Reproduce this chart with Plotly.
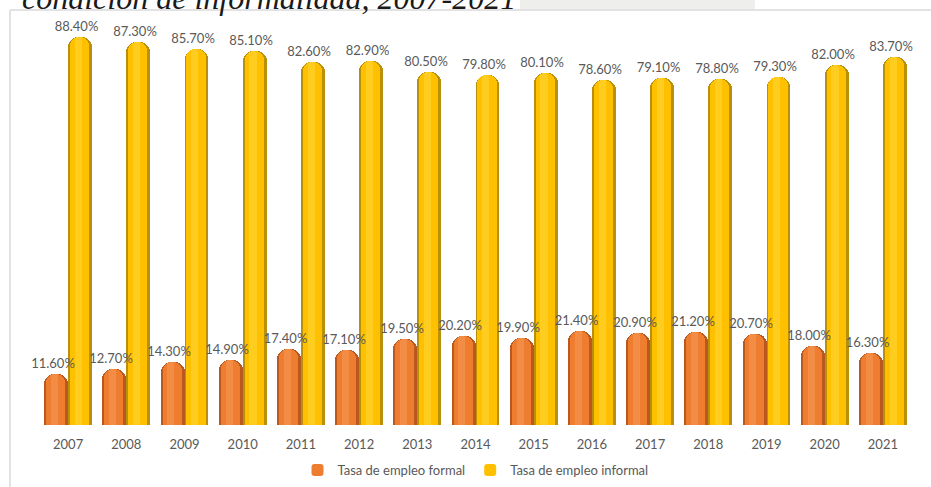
import plotly.graph_objects as go

# Tasa de empleo según condición de informalidad (%), 2007-2021
years = [2007, 2008, 2009, 2010, 2011, 2012, 2013, 2014, 2015, 2016, 2017, 2018, 2019, 2020, 2021]
formal = [11.6, 12.7, 14.3, 14.9, 17.4, 17.1, 19.5, 20.2, 19.9, 21.4, 20.9, 21.2, 20.7, 18.0, 16.3]
informal = [88.4, 87.3, 85.7, 85.1, 82.6, 82.9, 80.5, 79.8, 80.1, 78.6, 79.1, 78.8, 79.3, 82.0, 83.7]
series_names = ["Tasa de empleo formal", "Tasa de empleo informal"]

W, H = 931, 487
ML, MR, MT, MB = 39, 19, 21, 62
PW, PH = W - ML - MR, H - MT - MB

TXT = "#595959"
FONT = "Lato"

# three shading layers per series give the cylinder look: dark rim, body, highlight
palettes = [
    ("#B9581F", "#EF7D30", "#F59450"),  # formal (orange)
    ("#B8900A", "#FFC000", "#FFD22E"),  # informal (yellow)
]
BW = 0.41  # bar width in year units
series = [formal, informal]

fig = go.Figure()
for k, (name, vals) in enumerate(zip(series_names, series)):
    dark, body, hi = palettes[k]
    off = -BW if k == 0 else 0.0
    # rim (full width)
    fig.add_trace(go.Bar(
        x=years, y=vals, width=BW, offset=off,
        marker=dict(color=dark, line=dict(width=0), cornerradius=10),
        showlegend=False, legendgroup=name, hoverinfo="skip",
    ))
    # body
    fig.add_trace(go.Bar(
        x=years, y=vals, width=BW * 0.8, offset=off + BW * 0.08,
        marker=dict(color=body, line=dict(width=0), cornerradius=9),
        name=name, legendgroup=name, showlegend=True,
    ))
    # soft highlight
    fig.add_trace(go.Bar(
        x=years, y=vals, width=BW * 0.3, offset=off + BW * 0.28,
        marker=dict(color=hi, line=dict(width=0), cornerradius=4, opacity=0.7),
        showlegend=False, legendgroup=name, hoverinfo="skip",
    ))

# value labels go last so they sit on top of the neighbouring bars
for k, (name, vals) in enumerate(zip(series_names, series)):
    off = -BW if k == 0 else 0.0
    fig.add_trace(go.Bar(
        x=years, y=vals, width=BW, offset=off - 0.06,
        marker=dict(color="rgba(0,0,0,0)", line=dict(width=0)),
        text=[f"{v:.2f}%" for v in vals], textposition="outside",
        cliponaxis=False, constraintext="none",
        textfont=dict(family=FONT, size=13, color=TXT),
        showlegend=False, hoverinfo="skip",
    ))


def px_x(px):
    return (px - ML) / PW


def px_y(py):
    return (H - MB - py) / PH


shapes = [
    # faint backdrop strip above the chart frame
    dict(type="rect", xref="paper", yref="paper", layer="below",
         x0=px_x(520), x1=px_x(755), y0=px_y(9), y1=px_y(-2),
         fillcolor="#EEEFEC", line=dict(width=0)),
    # chart frame (left and top edges)
    dict(type="line", xref="paper", yref="paper",
         x0=px_x(10), x1=px_x(10), y0=px_y(10), y1=px_y(490),
         line=dict(color="#D9D9D9", width=1.5)),
    dict(type="line", xref="paper", yref="paper",
         x0=px_x(10), x1=px_x(935), y0=px_y(10), y1=px_y(10),
         line=dict(color="#D9D9D9", width=1.5)),
]

fig.update_layout(
    width=W, height=H,
    margin=dict(l=ML, r=MR, t=MT, b=MB, autoexpand=False),
    paper_bgcolor="white", plot_bgcolor="white",
    barmode="overlay", bargap=0,
    font=dict(family=FONT, color=TXT),
    xaxis=dict(
        range=[2006.5, 2021.5], tickmode="array", tickvals=years,
        ticktext=[str(y) for y in years], showgrid=False, zeroline=False,
        showline=False, ticks="outside", ticklen=7, tickcolor="rgba(0,0,0,0)",
        tickfont=dict(family=FONT, size=13, color=TXT), automargin=False,
    ),
    yaxis=dict(range=[0, 92], visible=False),
    legend=dict(
        orientation="h", x=0.5, xanchor="center", y=px_y(470), yanchor="middle",
        font=dict(family=FONT, size=13, color=TXT), traceorder="normal",
        itemwidth=30, bgcolor="rgba(0,0,0,0)",
    ),
    shapes=shapes,
    annotations=[dict(
        text="condición de informalidad, 2007-2021",
        xref="paper", yref="paper", x=px_x(20), y=px_y(18),
        xanchor="left", yanchor="bottom", showarrow=False,
        font=dict(family="Liberation Serif", size=32, color="#1a1a1a", style="italic"),
    )],
)

fig.write_html("out.html")
